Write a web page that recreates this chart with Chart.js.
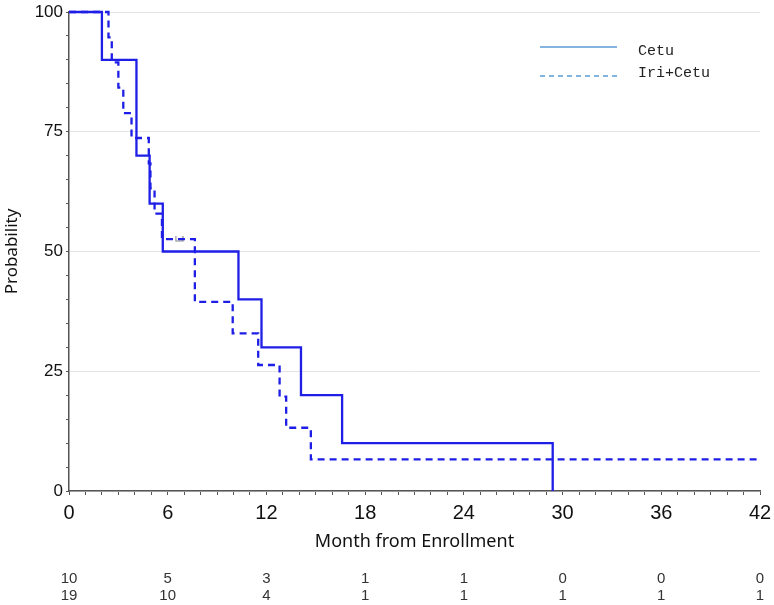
<!DOCTYPE html>
<html>
<head>
<meta charset="utf-8">
<script src="https://cdn.jsdelivr.net/npm/chart.js@4.4.0/dist/chart.umd.min.js"></script>
<style>
body{margin:0;background:#fff;}
</style>
</head>
<body>
<canvas id="km" width="774" height="605"></canvas>
<script>
	// Kaplan-Meier steps (months, % surviving)
	var cetuTime=[0,2.0,4.1,4.9,5.7,10.3,11.7,14.1,16.6,29.4];
	var cetuSurv=[100,90,70,60,50,40,30,20,10,0];
	var iriTime=[0,2.4,2.6,3.0,3.3,3.8,4.85,4.95,5.2,5.65,7.65,9.95,11.5,12.8,13.2,14.7,42];
	var iriSurv=[100,94.7,89.5,84.2,78.9,73.7,68.4,63.2,57.9,52.6,39.5,32.9,26.3,19.7,13.2,6.6,6.6];
	var censorTime=[6.7];
	var censorSurv=[52.6];
	// number at risk
	var riskTime=[0,6,12,18,24,30,36,42];
	var cetuRisk=[10,5,3,1,1,0,0,0];
	var iriRisk=[19,10,4,1,1,1,1,1];
	var seriesNames=['Cetu','Iri+Cetu'];

	var lineBlue='#1e1ee6';
	var legendBlue='#5b9bd5';

	function pts(t,s){
		var out=[];
		for(var i=0;i<t.length;i++){ out.push({x:t[i],y:s[i]}); }
		return out;
	}

	// small gray censor mark
	var censorMark=document.createElement('canvas');
	censorMark.width=9; censorMark.height=6;
	(function(){
		var c=censorMark.getContext('2d');
		c.strokeStyle='#888'; c.lineWidth=1.2;
		c.beginPath(); c.moveTo(1,0); c.lineTo(1,5); c.lineTo(8,5); c.lineTo(8,0); c.stroke();
	})();

	var extras={
		id:'extras',
		afterDraw:function(chart){
			var ctx=chart.ctx, xs=chart.scales.x;
			ctx.save();
			// at-risk table
			ctx.font='15px "Liberation Sans Narrow", "Liberation Sans", sans-serif';
			ctx.fillStyle='#333';
			ctx.textAlign='center';
			ctx.textBaseline='middle';
			for(var i=0;i<riskTime.length;i++){
				var x=xs.getPixelForValue(riskTime[i]);
				ctx.fillText(cetuRisk[i],x,579);
				ctx.fillText(iriRisk[i],x,596);
			}
			// legend
			ctx.strokeStyle=legendBlue;
			ctx.lineWidth=1.5;
			ctx.beginPath(); ctx.moveTo(540,47); ctx.lineTo(617,47); ctx.stroke();
			ctx.setLineDash([5,4]);
			ctx.beginPath(); ctx.moveTo(540,76); ctx.lineTo(617,76); ctx.stroke();
			ctx.setLineDash([]);
			ctx.font='15px "Liberation Mono", monospace';
			ctx.fillStyle='#222';
			ctx.textAlign='left';
			ctx.fillText(seriesNames[0],638,51);
			ctx.fillText(seriesNames[1],638,73);
			ctx.restore();
		}
	};

	var ctx=document.getElementById('km').getContext('2d');
	var myChart=new Chart(ctx,{
		type:'line',
		data:{
			datasets:[{
				label:seriesNames[0],
				data:pts(cetuTime,cetuSurv),
				borderColor:lineBlue,
				borderWidth:2.3,
				stepped:true,
				pointRadius:0,
				fill:false,
				clip:false
			},{
				label:seriesNames[1],
				data:pts(iriTime,iriSurv),
				borderColor:lineBlue,
				borderWidth:2.3,
				borderDash:[7,5],
				stepped:true,
				pointRadius:0,
				fill:false,
				clip:false
			},{
				label:'censored',
				data:pts(censorTime,censorSurv),
				showLine:false,
				pointStyle:censorMark,
				pointRadius:4
			}]
		},
		options:{
			responsive:false,
			animation:false,
			layout:{padding:{top:12,right:14,bottom:52,left:0}},
			plugins:{legend:{display:false},tooltip:{enabled:false}},
			scales:{
				x:{
					type:'linear',min:0,max:42,
					ticks:{stepSize:1,autoSkip:false,maxRotation:0,padding:6,color:'#111',
						font:{family:'"Liberation Sans Narrow", "Liberation Sans", sans-serif',size:20},
						callback:function(v){ return v%6===0 ? v : ''; }},
					grid:{drawOnChartArea:false,tickColor:'#555',tickLength:4},
					border:{color:'#555',width:1.5},
					title:{display:true,text:'Month from Enrollment',color:'#111',
						font:{family:'"Noto Sans"',size:18},padding:{top:0,bottom:0}},
					afterFit:function(s){ s.height=62; s.paddingLeft=0; s.paddingRight=0; }
				},
				y:{
					min:0,max:100,
					ticks:{stepSize:5,autoSkip:false,padding:3,color:'#111',
						font:{family:'"Liberation Sans", Arial, sans-serif',size:17},
						callback:function(v){ return v%25===0 ? v : ''; }},
					grid:{
						color:function(c){ return (c.tick && c.tick.value%25===0) ? '#e4e4e4' : 'rgba(0,0,0,0)'; },
						tickColor:'#555',tickLength:3
					},
					border:{color:'#555',width:1.5},
					title:{display:true,text:'Probability',color:'#111',
						font:{family:'"Noto Sans"',size:17},padding:{top:2,bottom:0}},
					afterFit:function(s){ s.width=69; s.paddingTop=0; s.paddingBottom=0; }
				}
			}
		},
		plugins:[extras]
	});
</script>
</body>
</html>
